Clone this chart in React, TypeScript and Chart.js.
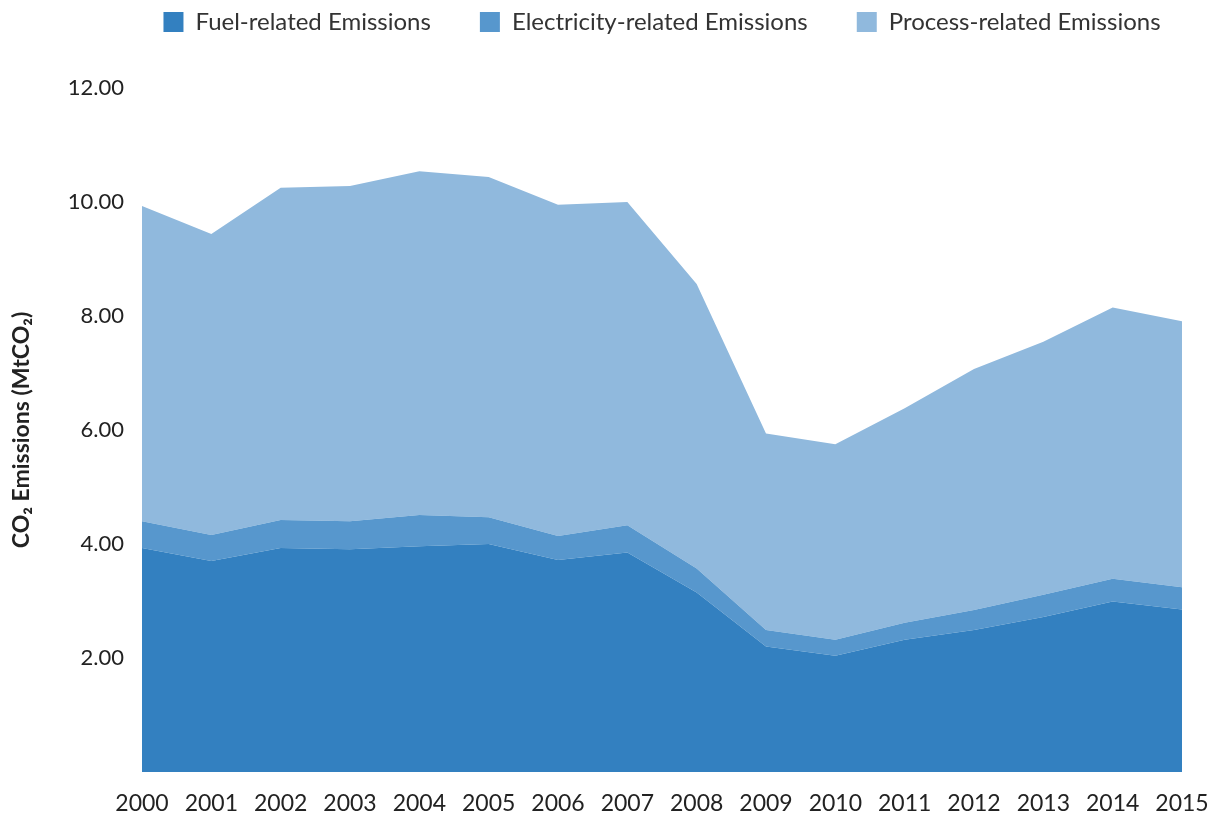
import React, { useEffect, useRef } from "react";
import { Chart, registerables } from "chart.js";

Chart.register(...registerables);

const years = ["2000", "2001", "2002", "2003", "2004", "2005", "2006", "2007", "2008", "2009", "2010", "2011", "2012", "2013", "2014", "2015"];
const fuelEmissions = [3.93, 3.70, 3.93, 3.91, 3.96, 4.00, 3.72, 3.85, 3.15, 2.20, 2.04, 2.32, 2.49, 2.72, 2.99, 2.85];
const electricityEmissions = [0.47, 0.46, 0.49, 0.49, 0.55, 0.47, 0.42, 0.48, 0.42, 0.29, 0.28, 0.30, 0.35, 0.39, 0.40, 0.39];
const processEmissions = [5.53, 5.28, 5.83, 5.88, 6.03, 5.97, 5.81, 5.67, 4.99, 3.45, 3.43, 3.76, 4.23, 4.44, 4.76, 4.67];
const seriesNames = ["Fuel-related Emissions", "Electricity-related Emissions", "Process-related Emissions"];
const seriesColors = ["#3380C0", "#5797CD", "#90B9DD"];
const yTicks = [0, 2, 4, 6, 8, 10, 12];

const FONT = "Lato, 'Open Sans', sans-serif";

export default function App() {
  const ref = useRef<HTMLCanvasElement | null>(null);
  useEffect(() => {
    if (!ref.current) return;
    const legendPlacement = {
      id: "legendPlacement",
      beforeInit(chart: any) {
        const orig = chart.legend.fit;
        chart.legend.fit = function () {
          orig.call(this);
          this.height = 88;
        };
      },
      afterLayout(chart: any) {
        const lg = chart.legend;
        const dy = -39 - lg.top;
        lg.top += dy;
        lg.bottom += dy;
        const dx = 71;
        lg.left += dx;
        lg.right += dx;
      },
    };
    const series = [fuelEmissions, electricityEmissions, processEmissions];
    const chart = new Chart(ref.current, {
      type: "line",
      data: {
        labels: years,
        datasets: series.map((d, i) => ({
          label: seriesNames[i],
          data: d,
          backgroundColor: seriesColors[i],
          borderColor: seriesColors[i],
          borderWidth: 0,
          pointRadius: 0,
          fill: i === 0 ? "origin" : "-1",
          tension: 0,
        })),
      },
      options: {
        responsive: false,
        animation: false,
        layout: { padding: { left: 0, right: 32, top: 0, bottom: 0 } },
        plugins: {
          legend: {
            position: "top",
            labels: {
              boxWidth: 20,
              boxHeight: 20,
              padding: 49,
              color: "#333",
              font: { family: FONT, size: 24 },
            },
          },
          tooltip: { enabled: false },
        },
        scales: {
          x: {
            grid: { display: false },
            border: { display: false },
            ticks: {
              color: "#222",
              font: { family: FONT, size: 23 },
              padding: 10,
              maxRotation: 0,
              autoSkip: false,
            },
            afterFit(s: any) {
              s.height = 42;
              s.paddingLeft = 0;
              s.paddingRight = 0;
            },
          },
          y: {
            stacked: true,
            min: 0,
            max: 12,
            afterBuildTicks(s: any) {
              s.ticks = yTicks.map((v) => ({ value: v }));
            },
            grid: { display: false },
            border: { display: false },
            ticks: {
              color: "#222",
              font: { family: FONT, size: 22 },
              padding: 10,
              callback: (v: any) => (Number(v) === 0 ? "" : Number(v).toFixed(2)),
            },
            title: {
              display: true,
              text: "CO₂ Emissions (MtCO₂)",
              color: "#222",
              font: { family: FONT, size: 23, weight: "bold" },
              padding: { top: 8, bottom: 0 },
            },
            afterFit(s: any) {
              s.width = 142;
            },
          },
        },
      },
      plugins: [legendPlacement],
    });
    return () => chart.destroy();
  }, []);
  return (
    <div style={{ position: "fixed", left: 0, top: 0, width: 1214, height: 814, background: "#fff" }}>
      <canvas ref={ref} width={1214} height={814} />
    </div>
  );
}
